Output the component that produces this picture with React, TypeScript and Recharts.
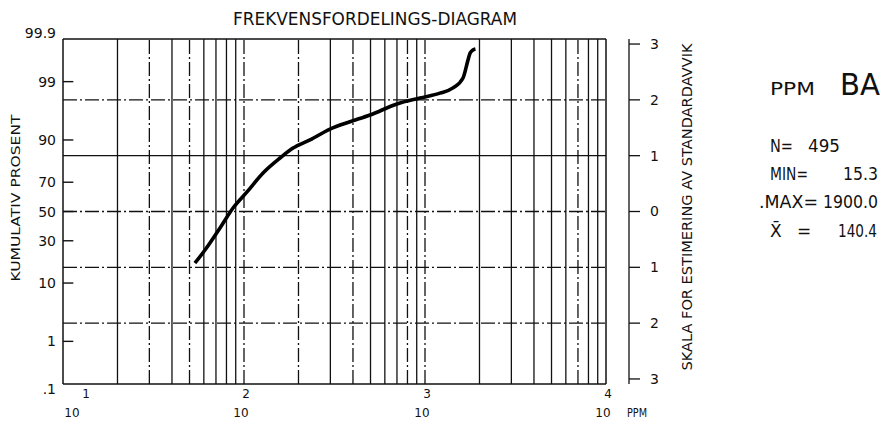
import React from 'react';
import { ComposedChart, Line, XAxis, YAxis, ReferenceLine } from 'recharts';

// Cumulative frequency curve (ppm Ba vs cumulative percent)
const ppmValues = [53.6, 60.9, 73.7, 87.0, 103.9, 127.4, 158.1, 186.6, 231.5, 298.7, 385.1, 496.8, 700, 938, 1210, 1428, 1622, 1729, 1773, 1842, 1900];
const cumulativePercent = [17.8, 24.5, 38.4, 52.5, 63.7, 75.5, 83.1, 87.2, 90.0, 93.0, 94.6, 95.8, 97.3, 97.9, 98.3, 98.66, 99.16, 99.67, 99.77, 99.81, 99.82];

// Axis ticks
const percentTicks = [0.1, 1, 10, 30, 50, 70, 90, 99, 99.9];
const percentTickLabels = ['.1', '1', '10', '30', '50', '70', '90', '99', '99.9'];
const sigmaTicks = [-3, -2, -1, 0, 1, 2, 3];
const decadeTicks = [10, 100, 1000, 10000];
const decadeExponents = ['1', '2', '3', '4'];

// Grid lines
const verticalGrid = [20, 30, 40, 50, 60, 70, 80, 90, 100, 200, 300, 400, 500, 600, 700, 800, 900, 1000, 2000, 3000, 4000, 5000, 6000, 7000, 8000, 9000];
const dashedVerticals = [30, 50, 100, 200, 400, 800, 1000, 7000];
const horizontalGrid = [-2, -1, 0, 1, 2];
const solidHorizontals = [1];

// Summary panel
const statLabels = ['N=', 'MIN=', '.MAX=', 'X\u0304'];
const statValues = ['495', '15.3', '1900.0', '140.4'];

function probit(p: number): number {
  const a = [-3.969683028665376e1, 2.209460984245205e2, -2.759285104469687e2, 1.38357751867269e2, -3.066479806614716e1, 2.506628277459239];
  const b = [-5.447609879822406e1, 1.615858368580409e2, -1.556989798598866e2, 6.680131188771972e1, -1.328068155288572e1];
  const c = [-7.784894002430293e-3, -3.223964580411365e-1, -2.400758277161838, -2.549732539343734, 4.374664141464968, 2.938163982698783];
  const d = [7.784695709041462e-3, 3.224671290700398e-1, 2.445134137142996, 3.754408661907416];
  const pl = 0.02425;
  const ph = 1 - pl;
  if (p < pl) {
    const q = Math.sqrt(-2 * Math.log(p));
    return (((((c[0] * q + c[1]) * q + c[2]) * q + c[3]) * q + c[4]) * q + c[5]) / ((((d[0] * q + d[1]) * q + d[2]) * q + d[3]) * q + 1);
  }
  if (p <= ph) {
    const q = p - 0.5;
    const r = q * q;
    return ((((((a[0] * r + a[1]) * r + a[2]) * r + a[3]) * r + a[4]) * r + a[5]) * q) / (((((b[0] * r + b[1]) * r + b[2]) * r + b[3]) * r + b[4]) * r + 1);
  }
  const q = Math.sqrt(-2 * Math.log(1 - p));
  return -(((((c[0] * q + c[1]) * q + c[2]) * q + c[3]) * q + c[4]) * q + c[5]) / ((((d[0] * q + d[1]) * q + d[2]) * q + d[3]) * q + 1);
}

const X_DOMAIN: [number, number] = [10, 10000];
const zMin = probit(0.001);
const zMax = probit(0.999);
const data = ppmValues.map((ppm, i) => ({ ppm, z: probit(cumulativePercent[i] / 100) }));
const leftTickValues = percentTicks.map((p) => probit(p / 100));
const innerTickValues = leftTickValues.slice(1, -1);
// inward tick length as a fraction of the log-x axis
const TICK_FRACTION = 0.019;
const innerTickEnd = X_DOMAIN[0] * Math.pow(X_DOMAIN[1] / X_DOMAIN[0], TICK_FRACTION);

const FONT = '"DejaVu Sans", sans-serif';
const INK = '#111';
const DASH = '14 3 2 3';

const LeftTick = (props: any) => {
  const x = Number(props.x);
  const y = Number(props.y);
  const index = props.index;
  const last = percentTicks.length - 1;
  const dy = index === last ? -6 : index === 0 ? 5 : 0;
  return (
    <text x={x} y={y + dy} dy="0.36em" textAnchor="end" fontFamily={FONT} fontSize={14} fill={INK}>
      {percentTickLabels[index]}
    </text>
  );
};

const BottomTick = (props: any) => {
  const x = Number(props.x);
  const y = Number(props.y);
  const index = props.index;
  const first = index === 0;
  const tx = first ? x + 9 : x - 3;
  const ex = first ? x + 23 : x + 2;
  return (
    <g>
      <text x={ex} y={y + 14} textAnchor="middle" fontFamily={FONT} fontSize={12} fill={INK}>
        {decadeExponents[index]}
      </text>
      <text x={tx} y={y + 33} textAnchor="middle" fontFamily={FONT} fontSize={12} fill={INK}>
        10
      </text>
    </g>
  );
};

export default function App() {
  return (
    <div style={{ position: 'absolute', left: 0, top: 0, width: 893, height: 421, background: '#fff' }}>
      <ComposedChart
        width={893}
        height={421}
        data={data}
        margin={{ top: 39, right: 194, bottom: 0, left: 0 }}
      >
        <XAxis
          xAxisId="b"
          dataKey="ppm"
          type="number"
          scale="log"
          domain={X_DOMAIN}
          allowDataOverflow
          ticks={decadeTicks}
          interval={0}
          height={37}
          tickLine={false}
          tickSize={0}
          tickMargin={0}
          axisLine={{ stroke: INK, strokeWidth: 1.5 }}
          tick={<BottomTick />}
        />
        <YAxis
          yAxisId="z"
          type="number"
          domain={[zMin, zMax]}
          allowDataOverflow
          ticks={leftTickValues}
          interval={0}
          width={63}
          tickLine={false}
          tickSize={0}
          tickMargin={7}
          axisLine={{ stroke: INK, strokeWidth: 1.5 }}
          tick={<LeftTick />}
        />
        <YAxis
          yAxisId="edge"
          orientation="right"
          type="number"
          domain={[zMin, zMax]}
          allowDataOverflow
          width={23}
          tick={false}
          tickLine={false}
          axisLine={false}
        />
        <YAxis
          yAxisId="sigma"
          orientation="right"
          type="number"
          domain={[zMin, zMax]}
          allowDataOverflow
          ticks={sigmaTicks}
          interval={0}
          width={70}
          tickSize={11}
          tickMargin={10}
          tickLine={{ stroke: INK, strokeWidth: 1.3 }}
          axisLine={{ stroke: INK, strokeWidth: 1.3 }}
          tick={{ fill: INK, fontSize: 14, fontFamily: FONT }}
          tickFormatter={(v: number) => String(Math.abs(v))}
        />
        {verticalGrid.map((v) => (
          <ReferenceLine
            key={'v' + v}
            xAxisId="b"
            yAxisId="z"
            x={v}
            stroke={INK}
            strokeWidth={1.3}
            strokeDasharray={dashedVerticals.includes(v) ? DASH : undefined}
          />
        ))}
        {horizontalGrid.map((h) => (
          <ReferenceLine
            key={'h' + h}
            xAxisId="b"
            yAxisId="z"
            y={h}
            stroke={INK}
            strokeWidth={1.3}
            strokeDasharray={solidHorizontals.includes(h) ? undefined : DASH}
          />
        ))}
        {innerTickValues.map((t, i) => (
          <ReferenceLine
            key={'t' + i}
            xAxisId="b"
            yAxisId="z"
            segment={[{ x: X_DOMAIN[0], y: t }, { x: innerTickEnd, y: t }]}
            stroke={INK}
            strokeWidth={1.4}
          />
        ))}
        <ReferenceLine xAxisId="b" yAxisId="z" y={zMax} stroke={INK} strokeWidth={1.5} />
        <ReferenceLine xAxisId="b" yAxisId="z" x={10000} stroke={INK} strokeWidth={1.5} />
        <Line
          xAxisId="b"
          yAxisId="z"
          dataKey="z"
          type="monotone"
          stroke="#000"
          strokeWidth={3.6}
          dot={false}
          isAnimationActive={false}
        />
      </ComposedChart>
      <svg
        width={893}
        height={421}
        style={{ position: 'absolute', left: 0, top: 0, pointerEvents: 'none' }}
      >
        <g fontFamily={FONT} fill={INK}>
          <text x={233} y={25} fontSize={18} textLength={284} lengthAdjust="spacingAndGlyphs">
            FREKVENSFORDELINGS-DIAGRAM
          </text>
          <text
            x={20}
            y={198}
            fontSize={13}
            textAnchor="middle"
            transform="rotate(-90 20 198)"
            textLength={167}
            lengthAdjust="spacingAndGlyphs"
          >
            KUMULATIV PROSENT
          </text>
          <text
            x={692}
            y={207}
            fontSize={14}
            textAnchor="middle"
            transform="rotate(-90 692 207)"
            textLength={327}
            lengthAdjust="spacingAndGlyphs"
          >
            SKALA FOR ESTIMERING AV STANDARDAVVIK
          </text>
          <text x={627} y={417} fontSize={12} textLength={20} lengthAdjust="spacingAndGlyphs">
            PPM
          </text>
          <text x={770} y={95} fontSize={18} textLength={45} lengthAdjust="spacingAndGlyphs">
            PPM
          </text>
          <text x={840} y={95} fontSize={30} textLength={40} lengthAdjust="spacingAndGlyphs">
            BA
          </text>
          <text x={770} y={152} fontSize={17} textLength={23} lengthAdjust="spacingAndGlyphs">{statLabels[0]}</text>
          <text x={808} y={152} fontSize={17} textLength={32} lengthAdjust="spacingAndGlyphs">{statValues[0]}</text>
          <text x={770} y={180} fontSize={17} textLength={38} lengthAdjust="spacingAndGlyphs">{statLabels[1]}</text>
          <text x={843} y={180} fontSize={17} textLength={35} lengthAdjust="spacingAndGlyphs">{statValues[1]}</text>
          <text x={759} y={208} fontSize={17} textLength={59} lengthAdjust="spacingAndGlyphs">{statLabels[2]}</text>
          <text x={823} y={208} fontSize={17} textLength={55} lengthAdjust="spacingAndGlyphs">{statValues[2]}</text>
          <text x={770} y={237} fontSize={17}>{statLabels[3]}</text>
          <text x={797} y={237} fontSize={17}>=</text>
          <text x={838} y={237} fontSize={17} textLength={39} lengthAdjust="spacingAndGlyphs">{statValues[3]}</text>
        </g>
      </svg>
    </div>
  );
}
